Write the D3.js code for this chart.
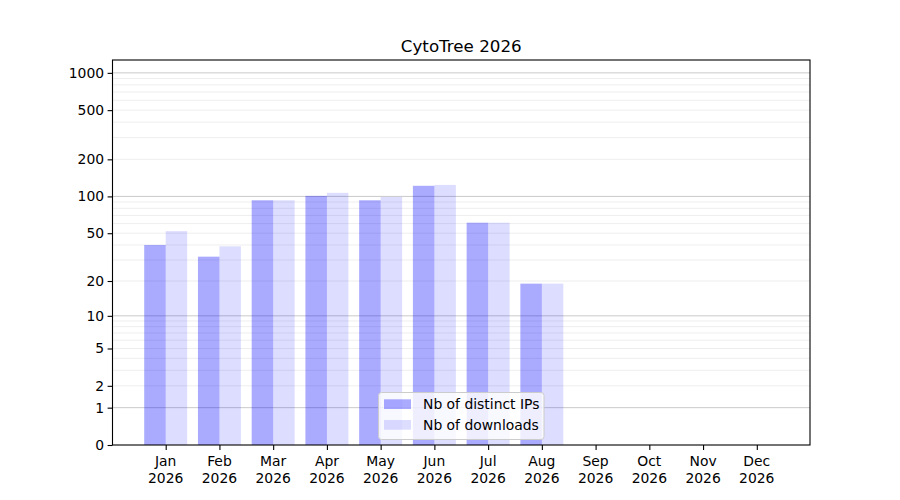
<!DOCTYPE html>
<html><head><meta charset="utf-8">
<script src="https://cdn.jsdelivr.net/npm/d3@7"></script>
<style>body{margin:0;background:#fff}svg{display:block}text{font-family:"DejaVu Sans",sans-serif;fill:#000}</style>
</head><body>
<svg id="c" width="900" height="500"></svg>
<script>
const months = ["Jan","Feb","Mar","Apr","May","Jun","Jul","Aug","Sep","Oct","Nov","Dec"];
const year = "2026";
const ips = [40, 32, 93, 101, 93, 122, 61, 19, 0, 0, 0, 0];
const downloads = [52, 39, 93, 107, 99, 124, 61, 19, 0, 0, 0, 0];
const yTicks = [0, 1, 2, 5, 10, 20, 50, 100, 200, 500, 1000];
const majorGrid = [1, 10, 100, 1000];
const minorGrid = [2,3,4,5,6,7,8,9,20,30,40,50,60,70,80,90,200,300,400,500,600,700,800,900];
const seriesNames = ["Nb of distinct IPs", "Nb of downloads"];
const title = "CytoTree 2026";

const svg = d3.select("#c");
const L = 112.5, R = 810, T = 60, B = 445;
const x = d3.scaleLinear().domain([0.01, 12.99]).range([L, R]);
const y = d3.scaleSymlog().constant(1).domain([0, 1270]).range([B, T]);
const bw = 0.4;

// grid
svg.append("g").selectAll("line").data(minorGrid).join("line")
  .attr("x1", L).attr("x2", R).attr("y1", d => y(d)).attr("y2", d => y(d))
  .attr("stroke", "rgba(0,0,0,0.07)").attr("stroke-width", 1);
svg.append("g").selectAll("line").data(majorGrid).join("line")
  .attr("x1", L).attr("x2", R).attr("y1", d => y(d)).attr("y2", d => y(d))
  .attr("stroke", "rgba(0,0,0,0.21)").attr("stroke-width", 1);

// bars
const g = svg.append("g");
g.selectAll(".ip").data(ips).join("rect").attr("class","ip")
  .attr("x", (d,i) => x(i + 1 - bw)).attr("width", (d,i) => x(i + 1) - x(i + 1 - bw))
  .attr("y", d => y(d)).attr("height", d => B - y(d))
  .attr("fill", "blue").attr("fill-opacity", 0.333);
g.selectAll(".dl").data(downloads).join("rect").attr("class","dl")
  .attr("x", (d,i) => x(i + 1)).attr("width", (d,i) => x(i + 1 + bw) - x(i + 1))
  .attr("y", d => y(d)).attr("height", d => B - y(d))
  .attr("fill", "blue").attr("fill-opacity", 0.133);

// axes
const yAxis = d3.axisLeft(y).tickValues(yTicks).tickFormat(d3.format("d")).tickSize(4.9).tickPadding(3.5);
const ya = svg.append("g").attr("transform", `translate(${L},0)`).call(yAxis);
ya.select(".domain").remove();
ya.selectAll("line").attr("stroke", "#000").attr("stroke-width", 1.1);
ya.selectAll("text").attr("font-size", "13.9px").attr("font-family", "DejaVu Sans");

const xa = svg.append("g").attr("transform", `translate(0,${B})`)
  .call(d3.axisBottom(x).tickValues(months.map((m,i) => i + 1)).tickFormat("").tickSize(4.9));
xa.select(".domain").remove();
xa.selectAll("line").attr("stroke", "#000").attr("stroke-width", 1.1);
const xl = svg.append("g").selectAll("text").data(months).join("text")
  .attr("text-anchor", "middle").attr("font-size", "13.9px");
xl.append("tspan").attr("x", (d,i) => x(i + 1)).attr("y", 466).text(d => d);
xl.append("tspan").attr("x", (d,i) => x(i + 1)).attr("y", 482.7).text(year);

// frame
svg.append("rect").attr("x", L).attr("y", T).attr("width", R - L).attr("height", B - T)
  .attr("fill", "none").attr("stroke", "#000").attr("stroke-width", 1.1);

// title
svg.append("text").attr("x", (L + R) / 2).attr("y", 52).attr("text-anchor", "middle")
  .attr("font-size", "16.7px").text(title);

// legend
const lg = svg.append("g");
lg.append("rect").attr("x", 378.5).attr("y", 392.5).attr("width", 165.5).attr("height", 47)
  .attr("rx", 3).attr("fill", "rgba(255,255,255,0.8)").attr("stroke", "#cccccc").attr("stroke-width", 1);
const lops = [0.333, 0.133];
seriesNames.forEach((s, i) => {
  const yy = 399.3 + i * 20.7;
  lg.append("rect").attr("x", 384).attr("y", yy).attr("width", 27).attr("height", 9.7)
    .attr("fill", "blue").attr("fill-opacity", lops[i]);
  lg.append("text").attr("x", 423).attr("y", yy + 9.7).attr("font-size", "13.9px").text(s);
});
</script>
</body></html>
